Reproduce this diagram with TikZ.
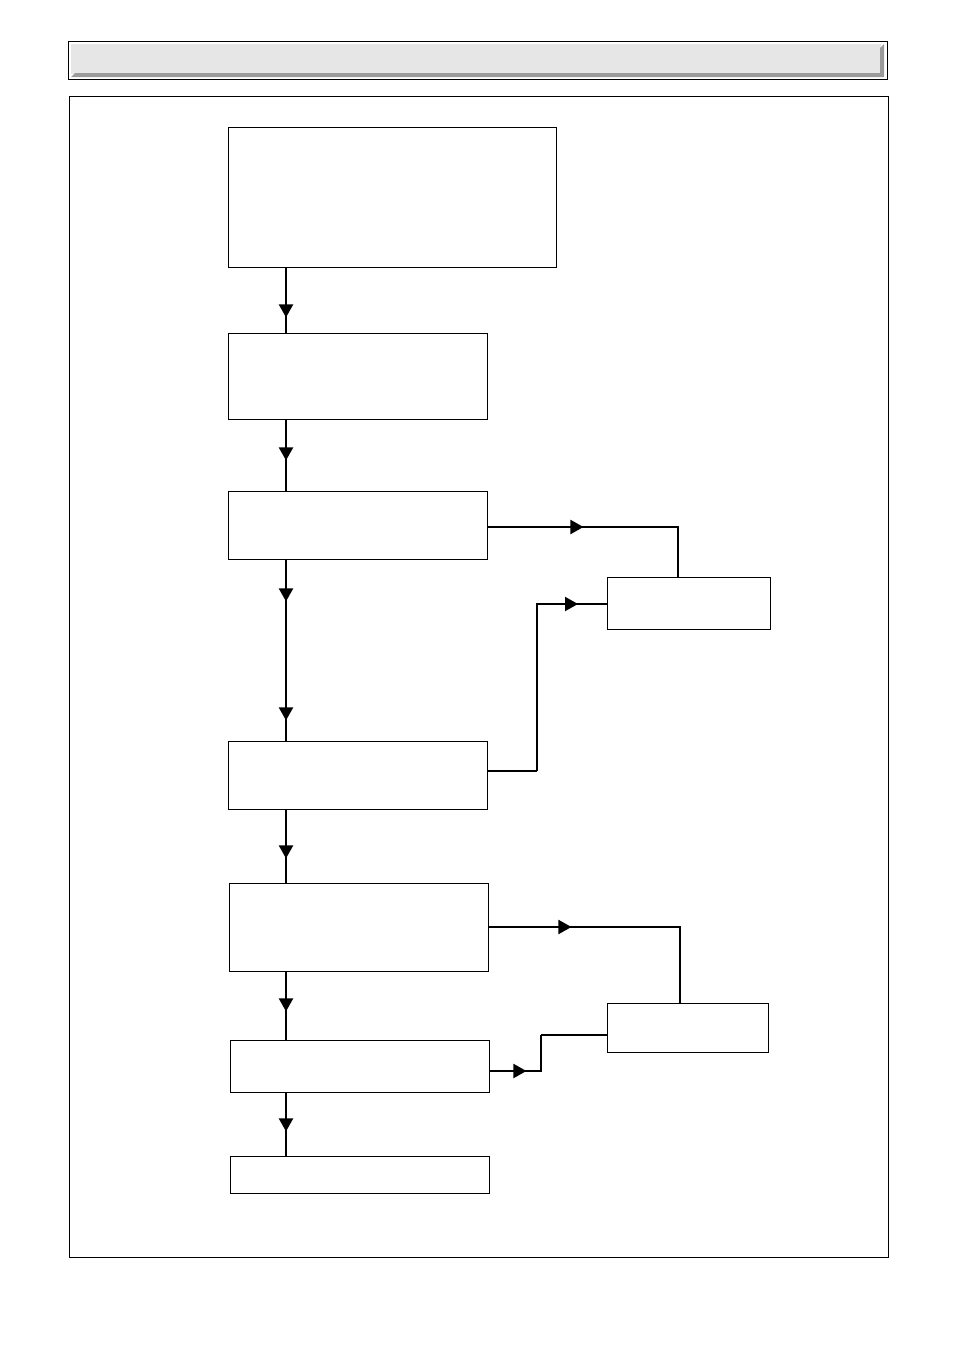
\documentclass[tikz,border=0pt]{standalone}
\usetikzlibrary{arrows.meta,decorations.markings,calc}
\definecolor{barfill}{HTML}{E6E6E6}
\definecolor{barshade}{HTML}{9A9A9A}
\tikzset{
  box/.style={draw=black, line width=0.9pt, fill=white, inner sep=0pt, minimum width=#1},
  conn/.style={draw=black, line width=2pt},
  thinconn/.style={draw=black, line width=1.2pt},
  tipat/.style={postaction=decorate, decoration={markings,
     mark=at position #1 with {\arrow{Triangle[length=13pt,width=14pt]}}}},
  twotips/.style 2 args={postaction=decorate, decoration={markings,
     mark=at position #1 with {\arrow{Triangle[length=13pt,width=14pt]}},
     mark=at position #2 with {\arrow{Triangle[length=13pt,width=14pt]}}}}
}
\begin{document}
\begin{tikzpicture}[x=1pt,y=-1pt]
\useasboundingbox[fill=white] (0,0) rectangle (954,1350);
% header bar
\node[draw=black, line width=1pt, minimum width=819pt, minimum height=38pt, inner sep=0pt] (bar) at (477.5,60) {};
\fill[barfill] (71,44) rectangle (881,74);
\fill[barshade] (884,44) -- (884,77) -- (71,77) -- (75,73) -- (880,73) -- (880,48) -- cycle;
% main frame
\node[draw=black, line width=0.9pt, minimum width=819pt, minimum height=1161pt, inner sep=0pt] (frame) at (478.5,676.5) {};
% boxes
\node[box=328pt, minimum height=140pt] (A) at (392,197) {};
\node[box=259pt, minimum height=86pt] (B) at (357.5,376) {};
\node[box=259pt, minimum height=68pt] (C) at (357.5,525) {};
\node[box=259pt, minimum height=68pt] (D) at (357.5,775) {};
\node[box=259pt, minimum height=88pt] (E) at (358.5,927) {};
\node[box=259pt, minimum height=52pt] (F) at (359.5,1066) {};
\node[box=259pt, minimum height=37pt] (G) at (359.5,1174.5) {};
\node[box=163pt, minimum height=52pt] (R1) at (688.5,603) {};
\node[box=161pt, minimum height=49pt] (R2) at (687.5,1027.5) {};
% spine
\coordinate (sp) at (286,0);
\draw[conn, tipat=50pt] (A.south -| sp) -- (B.north -| sp);
\draw[conn, tipat=41pt] (B.south -| sp) -- (C.north -| sp);
\draw[conn, twotips={42pt}{161pt}] (C.south -| sp) -- (D.north -| sp);
\draw[conn, tipat=49pt] (D.south -| sp) -- (E.north -| sp);
\draw[conn, tipat=40pt] (E.south -| sp) -- (F.north -| sp);
\draw[conn, tipat=39pt] (F.south -| sp) -- (G.north -| sp);
% side connectors
\coordinate (c1) at (678,527);
\draw[conn, tipat=96pt] (C.east |- c1) -- (c1) -- (c1 |- R1.north);
\coordinate (d1) at (537,771);
\coordinate (d2) at (537,604);
\draw[thinconn] (D.east |- d1) -- (d1);
\draw[conn, tipat=208pt] (d1) -- (d2) -- (d2 -| R1.west);
\coordinate (e1) at (680,927);
\draw[conn, tipat=83pt] (E.east |- e1) -- (e1) -- (e1 |- R2.north);
\coordinate (f1) at (541,1071);
\coordinate (f2) at (541,1035);
\draw[conn, tipat=37pt] (F.east |- f1) -- (f1) -- (f2);
\draw[thinconn] (f2) -- (f2 -| R2.west);
\end{tikzpicture}
\end{document}
